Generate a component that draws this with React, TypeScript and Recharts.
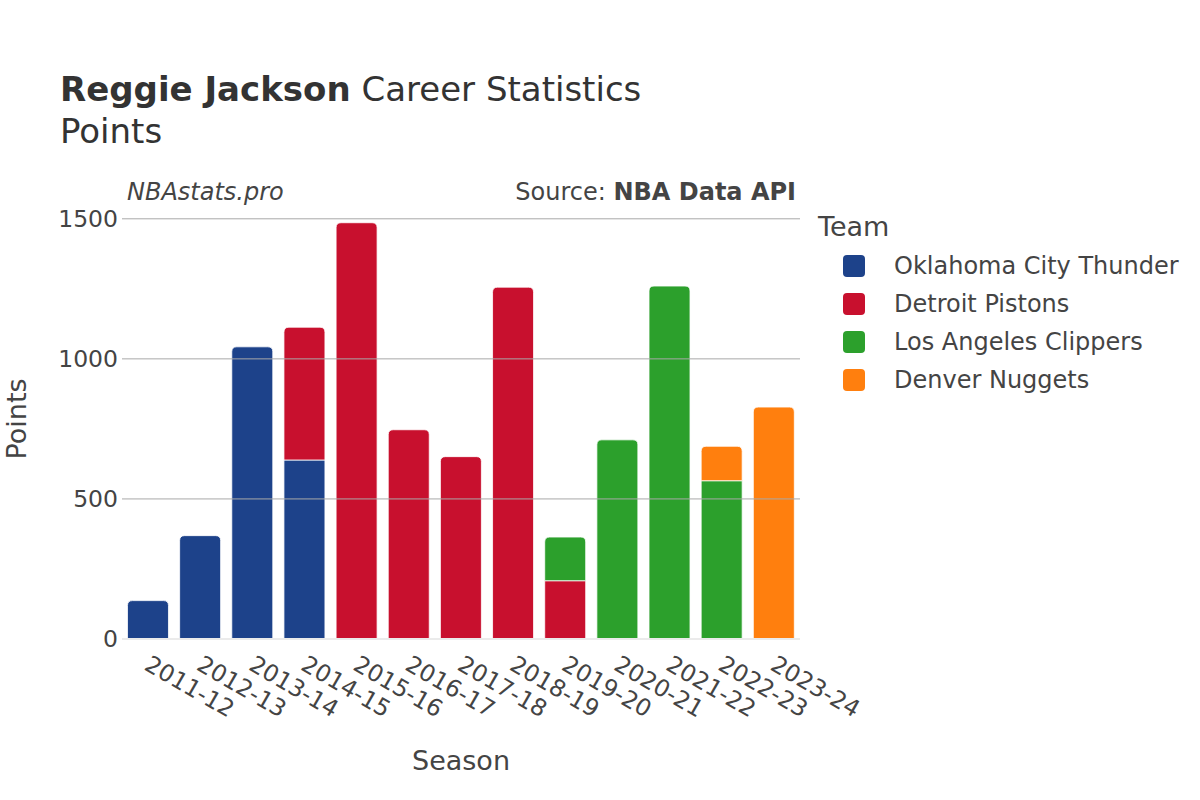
import React from 'react';
import { BarChart, Bar, XAxis, YAxis, ReferenceLine } from 'recharts';

// Season labels and points per team
const seasons = ['2011-12', '2012-13', '2013-14', '2014-15', '2015-16', '2016-17', '2017-18', '2018-19', '2019-20', '2020-21', '2021-22', '2022-23', '2023-24'];
const okcPoints = [137, 369, 1043, 639, 0, 0, 0, 0, 0, 0, 0, 0, 0];
const detPoints = [0, 0, 0, 474, 1486, 747, 651, 1256, 208, 0, 0, 0, 0];
const lacPoints = [0, 0, 0, 0, 0, 0, 0, 0, 156, 711, 1260, 565, 0];
const denPoints = [0, 0, 0, 0, 0, 0, 0, 0, 0, 0, 0, 123, 828];
const yTicks = [0, 500, 1000, 1500];

const teams = [
  { key: 'okc', name: 'Oklahoma City Thunder', color: '#1d428a' },
  { key: 'det', name: 'Detroit Pistons', color: '#c8102e' },
  { key: 'lac', name: 'Los Angeles Clippers', color: '#2ca02c' },
  { key: 'den', name: 'Denver Nuggets', color: '#ff7f0e' },
];

const data = seasons.map((season, i) => ({
  season,
  okc: okcPoints[i],
  det: detPoints[i],
  lac: lacPoints[i],
  den: denPoints[i],
}));

const FONT = '"DejaVu Sans", sans-serif';
const TEXT = '#444';

// only the topmost segment of each stack gets rounded corners
const makeShape = (key: string) => (props: any) => {
  const { x, y, width, height, fill, payload } = props;
  if (!height || height <= 0) return <g />;
  const idx = teams.findIndex(t => t.key === key);
  const isTop = teams.slice(idx + 1).every(t => !payload[t.key]);
  const r = isTop ? Math.min(5, height) : 0;
  const d = `M${x},${y + height} L${x},${y + r} Q${x},${y} ${x + r},${y} L${x + width - r},${y} Q${x + width},${y} ${x + width},${y + r} L${x + width},${y + height} Z`;
  return <path d={d} fill={fill} stroke="#fff" strokeWidth={0.8} />;
};

const SeasonTick = (props: any) => {
  const { x, y, payload } = props;
  const tx = x - 5;
  const ty = y + 22;
  return (
    <text
      x={tx}
      y={ty}
      transform={`rotate(30, ${tx}, ${ty})`}
      textAnchor="start"
      fontSize={23.5}
      fontFamily={FONT}
      fill={TEXT}
    >
      {payload.value}
    </text>
  );
};

export default function App() {
  return (
    <div style={{ position: 'absolute', left: 0, top: 0, width: 1200, height: 800, background: '#fff' }}>
      <BarChart
        width={1200}
        height={800}
        data={data}
        margin={{ top: 202, right: 400, bottom: 61, left: 62 }}
        barCategoryGap="10.5%"
      >
        <XAxis
          dataKey="season"
          tick={<SeasonTick />}
          tickLine={false}
          axisLine={false}
          height={100}
          interval={0}
        />
        <YAxis
          domain={[0, 1560]}
          ticks={yTicks}
          width={60}
          tickLine={false}
          axisLine={false}
          tickSize={0}
          tickMargin={4}
          tick={{ fontSize: 23.5, fontFamily: FONT, fill: TEXT }}
        />
        {yTicks.slice(1).map(v => (
          <ReferenceLine key={v} y={v} stroke="#a8a8a8" strokeWidth={1} />
        ))}
        {teams.map(t => (
          <Bar
            key={t.key}
            dataKey={t.key}
            name={t.name}
            stackId="a"
            fill={t.color}
            shape={makeShape(t.key)}
            isAnimationActive={false}
          />
        ))}
        <ReferenceLine y={0} stroke="#ebebeb" strokeWidth={2} />
      </BarChart>

      <svg width={1200} height={800} style={{ position: 'absolute', left: 0, top: 0, pointerEvents: 'none' }}>
        <text x={60} y={101} fontSize={34} fontFamily={FONT} fill="#333">
          <tspan fontWeight="bold">Reggie Jackson</tspan>
          <tspan> Career Statistics</tspan>
        </text>
        <text x={60} y={143} fontSize={34} fontFamily={FONT} fill="#333">Points</text>

        <text x={127} y={200} fontSize={24} fontStyle="italic" fontFamily={FONT} fill={TEXT}>NBAstats.pro</text>
        <text x={796} y={200} fontSize={24} textAnchor="end" fontFamily={FONT} fill={TEXT}>
          <tspan>Source: </tspan>
          <tspan fontWeight="bold">NBA Data API</tspan>
        </text>

        <text x={461} y={770} fontSize={27} textAnchor="middle" fontFamily={FONT} fill={TEXT}>Season</text>
        <text
          x={26}
          y={419}
          fontSize={27}
          textAnchor="middle"
          fontFamily={FONT}
          fill={TEXT}
          transform="rotate(-90, 26, 419)"
        >
          Points
        </text>

        <text x={818} y={236} fontSize={27} fontFamily={FONT} fill={TEXT}>Team</text>
        {teams.map((t, i) => (
          <g key={t.key}>
            <rect x={843} y={255 + i * 38} width={22} height={22} rx={4} fill={t.color} />
            <text x={894} y={274 + i * 38} fontSize={24} fontFamily={FONT} fill={TEXT}>{t.name}</text>
          </g>
        ))}
      </svg>
    </div>
  );
}
